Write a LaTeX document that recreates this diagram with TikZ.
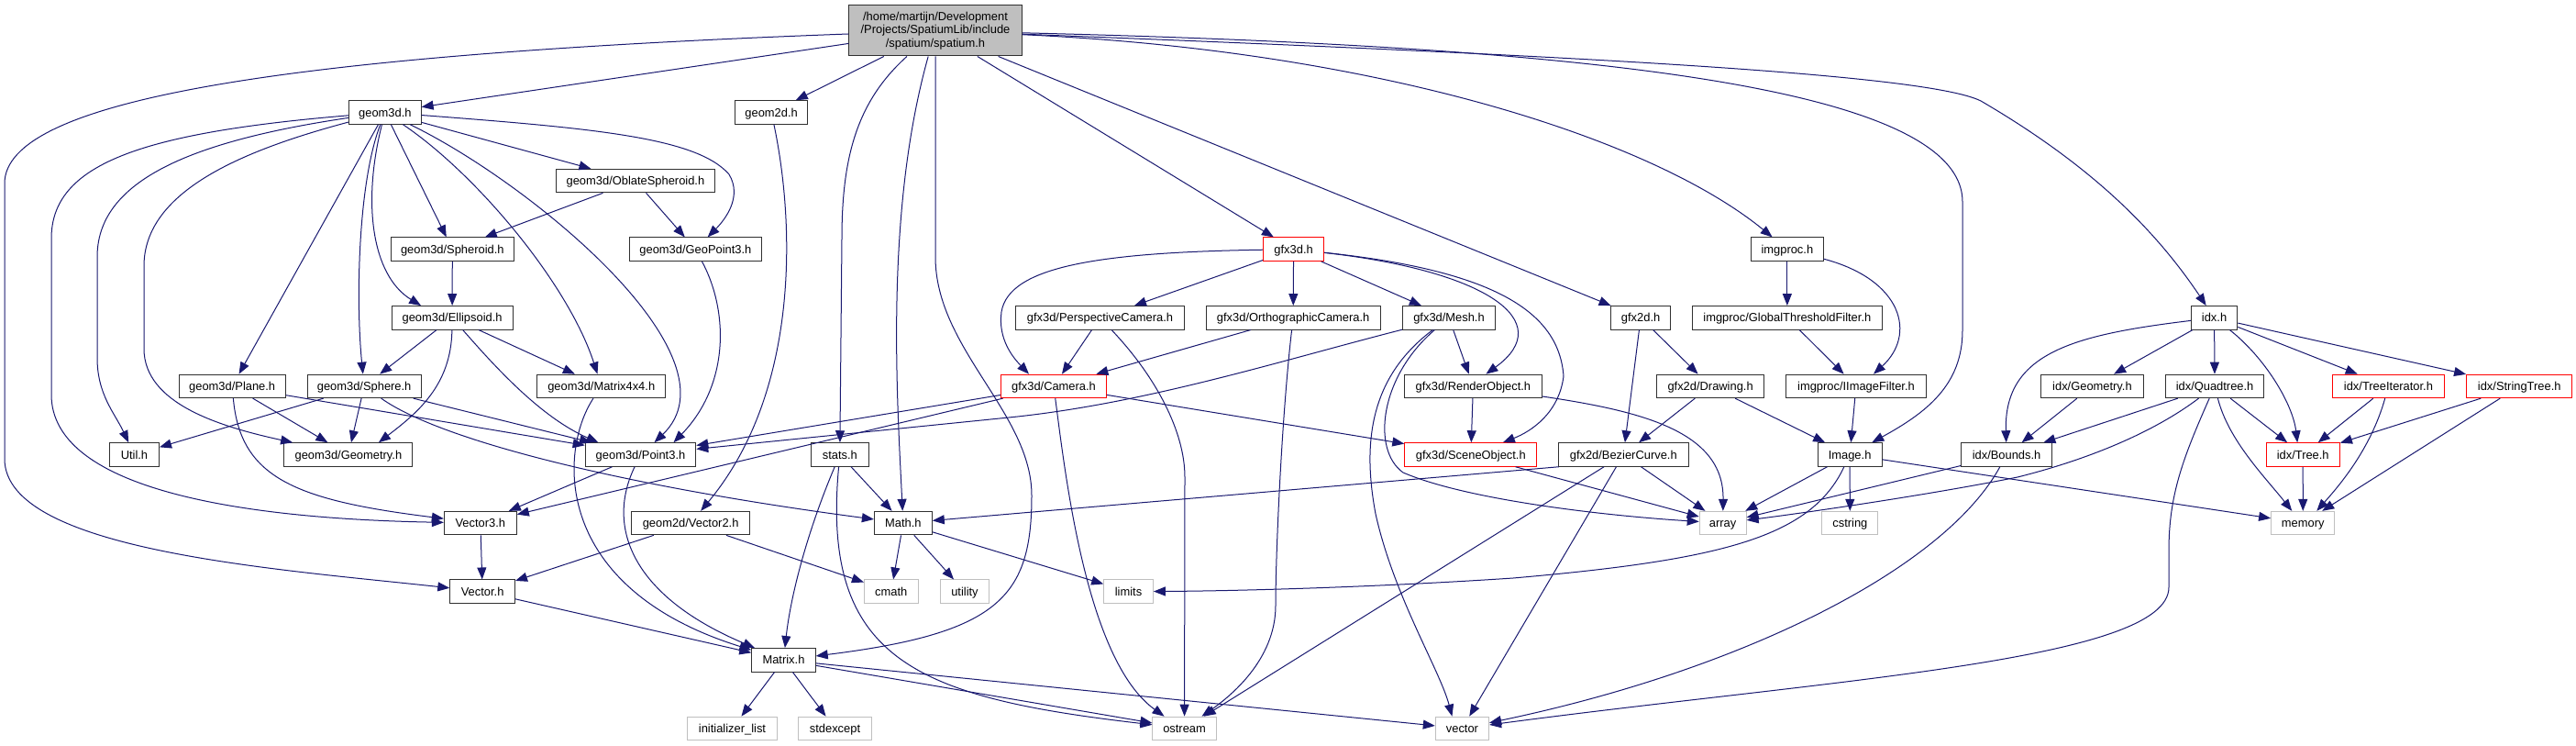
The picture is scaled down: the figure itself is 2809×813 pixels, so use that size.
\documentclass[tikz,border=0pt]{standalone}
\usepackage{fontspec}
\setmainfont{Liberation Sans}
\usetikzlibrary{arrows.meta}
\definecolor{edgecol}{HTML}{191970}
\definecolor{extgray}{HTML}{BFBFBF}
\definecolor{rootgray}{HTML}{BFBFBF}
\definecolor{bordercol}{HTML}{303030}
\newcommand\dxfont{\fontsize{12.9}{14.7}\selectfont}
\begin{document}
\begin{tikzpicture}[x=1pt,y=-1pt,
  base/.style={line width=1pt, fill=white, inner sep=0pt, minimum height=25.5pt, font=\dxfont},
  nd/.style={base, draw=bordercol, text height=9.3pt, text depth=0pt},
  rnd/.style={nd, draw=red},
  ext/.style={nd, draw=extgray},
  lnk/.style={draw=edgecol, line width=1pt, -{Triangle[length=13pt,width=10pt]}},
]
\fill[white] (0,0) rectangle (2809,813);
\useasboundingbox (0,0) rectangle (2809,813);

% ---------- nodes ----------
\node[base, draw=bordercol, fill=rootgray, minimum width=188.2pt, minimum height=55pt, align=center] (root) at (1020,33.5) {/home/martijn/Development\\/Projects/SpatiumLib/include\\/spatium/spatium.h};
% row 1
\node[nd, minimum width=78.5pt] (geom3d) at (419.85,122.5) {geom3d.h};
\node[nd, minimum width=78.5pt] (geom2d) at (841.15,122.5) {geom2d.h};
% row 2
\node[nd, minimum width=172.1pt] (oblate) at (692.95,197.1) {geom3d/OblateSpheroid.h};
% row 3
\node[nd, minimum width=134.6pt] (spheroid) at (493.3,271.7) {geom3d/Spheroid.h};
\node[nd, minimum width=144pt] (geopoint) at (758.4,271.7) {geom3d/GeoPoint3.h};
\node[rnd, minimum width=66pt] (gfx3d) at (1410.6,271.7) {gfx3d.h};
\node[nd, minimum width=78.5pt] (imgproc) at (1948.85,271.7) {imgproc.h};
% row 4
\node[nd, minimum width=132.2pt] (ellipsoid) at (493.1,346.3) {geom3d/Ellipsoid.h};
\node[nd, minimum width=184.6pt] (persp) at (1199.5,346.3) {gfx3d/PerspectiveCamera.h};
\node[nd, minimum width=189.9pt] (ortho) at (1410.15,346.3) {gfx3d/OrthographicCamera.h};
\node[nd, minimum width=101pt] (mesh) at (1580,346.3) {gfx3d/Mesh.h};
\node[nd, minimum width=65.6pt] (gfx2d) at (1789.1,346.3) {gfx2d.h};
\node[nd, minimum width=207.1pt] (gthresh) at (1948.85,346.3) {imgproc/GlobalThresholdFilter.h};
\node[nd, minimum width=50.5pt] (idx) at (2414.55,346.3) {idx.h};
% row 5
\node[nd, minimum width=116.2pt] (plane) at (253.2,420.9) {geom3d/Plane.h};
\node[nd, minimum width=123.9pt] (sphere) at (397.15,420.9) {geom3d/Sphere.h};
\node[nd, minimum width=139.9pt] (m44) at (655.75,420.9) {geom3d/Matrix4x4.h};
\node[rnd, minimum width=114.8pt] (camera) at (1149,420.9) {gfx3d/Camera.h};
\node[nd, minimum width=149.2pt] (renderobj) at (1606.4,420.9) {gfx3d/RenderObject.h};
\node[nd, minimum width=117.6pt] (drawing) at (1865.1,420.9) {gfx2d/Drawing.h};
\node[nd, minimum width=152.5pt] (iimage) at (2023.95,420.9) {imgproc/IImageFilter.h};
\node[nd, minimum width=111.1pt] (idxgeom) at (2281.45,420.9) {idx/Geometry.h};
\node[nd, minimum width=107.5pt] (quadtree) at (2415.05,420.9) {idx/Quadtree.h};
\node[rnd, minimum width=121.7pt] (treeiter) at (2604.45,420.9) {idx/TreeIterator.h};
\node[rnd, minimum width=115.2pt] (stringtree) at (2747.2,420.9) {idx/StringTree.h};
% row 6
\node[nd, minimum width=54.1pt] (util) at (146.45,495.5) {Util.h};
\node[nd, minimum width=140pt] (geom3geom) at (379.9,495.5) {geom3d/Geometry.h};
\node[nd, minimum width=120.6pt] (point3) at (698.5,495.5) {geom3d/Point3.h};
\node[nd, minimum width=63.4pt] (stats) at (915.8,495.5) {stats.h};
\node[rnd, minimum width=144.1pt] (sceneobj) at (1603.85,495.5) {gfx3d/SceneObject.h};
\node[nd, minimum width=141.9pt] (bezier) at (1770.25,495.5) {gfx2d/BezierCurve.h};
\node[nd, minimum width=69.8pt] (image) at (2017.1,495.5) {Image.h};
\node[nd, minimum width=98.7pt] (bounds) at (2188.05,495.5) {idx/Bounds.h};
\node[rnd, minimum width=80.4pt] (tree) at (2511.2,495.5) {idx/Tree.h};
% row 7
\node[nd, minimum width=78.9pt] (vector3) at (523.85,570.1) {Vector3.h};
\node[nd, minimum width=128.8pt] (vector2) at (753.1,570.1) {geom2d/Vector2.h};
\node[nd, minimum width=62.9pt] (math) at (984.85,570.1) {Math.h};
\node[ext, minimum width=50.9pt] (array) at (1878.65,570.1) {array};
\node[ext, minimum width=61.1pt] (cstring) at (2017.35,570.1) {cstring};
\node[ext, minimum width=69.3pt] (memory) at (2511.25,570.1) {memory};
% row 8
\node[nd, minimum width=70.7pt] (vectorh) at (526.15,644.7) {Vector.h};
\node[ext, minimum width=58.8pt] (cmath) at (971.8,644.7) {cmath};
\node[ext, minimum width=53.7pt] (utility) at (1051.95,644.7) {utility};
\node[ext, minimum width=53.7pt] (limits) at (1230.55,644.7) {limits};
% row 9
\node[nd, minimum width=69.4pt] (matrix) at (854.5,719.3) {Matrix.h};
% row 10
\node[ext, minimum width=97.8pt] (initlist) at (798.5,793.9) {initializer\_list};
\node[ext, minimum width=79.4pt] (stdexcept) at (910.5,793.9) {stdexcept};
\node[ext, minimum width=69.3pt] (ostream) at (1291.55,793.9) {ostream};
\node[ext, minimum width=58.3pt] (vecstd) at (1594.45,793.9) {vector};

% ---------- edges ----------
% root
\draw[lnk] (root) .. controls (300,60) and (5,110) .. (5,200) -- (5,500) .. controls (5,600) and (300,620) .. (vectorh);
\draw[lnk] (root) -- (geom3d);
\draw[lnk] (root) -- (geom2d);
\draw[lnk] (root) .. controls (935,110) and (918,170) .. (918,260) -- (stats);
\draw[lnk] (root) .. controls (965,230) and (978,430) .. (math);
\draw[lnk] (root) -- (1020,280) .. controls (1020,380) and (1125,450) .. (1125,540) .. controls (1125,650) and (1090,690) .. (matrix);
\draw[lnk] (root) -- (gfx3d);
\draw[lnk] (root) -- (gfx2d);
\draw[lnk] (root) .. controls (1500,55) and (1800,150) .. (imgproc);
\draw[lnk] (root) .. controls (1700,50) and (2140,90) .. (2140,220) -- (2140,360) .. controls (2140,420) and (2100,450) .. (image);
\draw[lnk] (root) .. controls (1700,60) and (2100,80) .. (2160,110) .. controls (2280,180) and (2350,250) .. (idx);
% geom3d
\draw[lnk] (geom3d) .. controls (150,145) and (56,180) .. (56,260) -- (56,430) .. controls (56,530) and (250,565) .. (vector3);
\draw[lnk] (geom3d) .. controls (200,155) and (106,200) .. (106,280) -- (106,390) .. controls (106,430) and (125,450) .. (util);
\draw[lnk] (geom3d) .. controls (260,165) and (157,210) .. (157,290) -- (157,380) .. controls (157,440) and (240,465) .. (geom3geom);
\draw[lnk] (geom3d) -- (plane);
\draw[lnk] (geom3d) .. controls (390,200) and (388,330) .. (sphere);
\draw[lnk] (geom3d) .. controls (395,220) and (405,300) .. ([xshift=-34pt]ellipsoid.north);
\draw[lnk] (geom3d) -- (spheroid);
\draw[lnk] (geom3d) .. controls (520,190) and (620,310) .. (m44);
\draw[lnk] (geom3d) .. controls (580,200) and (810,390) .. ([xshift=15pt]point3.north);
\draw[lnk] (geom3d) -- (oblate);
\draw[lnk] (geom3d) .. controls (650,140) and (760,150) .. (795,190) .. controls (810,215) and (790,240) .. (geopoint);
% geometry chain
\draw[lnk] (oblate) -- (spheroid);
\draw[lnk] (oblate) -- (geopoint);
\draw[lnk] (spheroid) -- (ellipsoid);
\draw[lnk] (geopoint) .. controls (795,340) and (795,420) .. ([xshift=36pt]point3.north);
\draw[lnk] (ellipsoid) -- (sphere);
\draw[lnk] (ellipsoid) .. controls (492,420) and (455,450) .. ([xshift=33pt]geom3geom.north);
\draw[lnk] (ellipsoid) .. controls (540,400) and (590,455) .. ([xshift=-46pt]point3.north);
\draw[lnk] (ellipsoid) -- (m44);
\draw[lnk] (sphere) -- (util);
\draw[lnk] (sphere) -- (geom3geom);
\draw[lnk] (sphere) -- (point3);
\draw[lnk] (sphere) .. controls (480,480) and (680,530) .. (math);
\draw[lnk] (plane) -- (geom3geom);
\draw[lnk] (plane) -- (point3);
\draw[lnk] (plane) .. controls (262,520) and (320,545) .. (vector3);
\draw[lnk] (m44) .. controls (610,490) and (600,640) .. (matrix);
\draw[lnk] (point3) -- (vector3);
\draw[lnk] (point3) .. controls (660,575) and (690,650) .. (matrix);
\draw[lnk] (vector3) -- (vectorh);
\draw[lnk] (vectorh) -- (matrix);
\draw[lnk] (geom2d) .. controls (868,250) and (870,430) .. (vector2);
\draw[lnk] (vector2) -- (vectorh);
\draw[lnk] (vector2) -- (cmath);
\draw[lnk] (math) -- (cmath);
\draw[lnk] (math) -- (utility);
\draw[lnk] (math) -- (limits);
\draw[lnk] (stats) -- (math);
\draw[lnk] (stats) .. controls (880,580) and (862,650) .. (matrix);
\draw[lnk] (stats) .. controls (895,720) and (1000,760) .. (ostream);
\draw[lnk] (matrix) -- (initlist);
\draw[lnk] (matrix) -- (stdexcept);
\draw[lnk] (matrix) -- (ostream);
\draw[lnk] (matrix) -- (vecstd);
% gfx3d
\draw[lnk] (gfx3d) .. controls (1200,275) and (1100,290) .. (1092,340) .. controls (1088,370) and (1105,390) .. ([xshift=-27pt]camera.north);
\draw[lnk] (gfx3d) -- (persp);
\draw[lnk] (gfx3d) -- (ortho);
\draw[lnk] (gfx3d) -- (mesh);
\draw[lnk] (gfx3d) .. controls (1620,295) and (1700,350) .. ([xshift=14pt]renderobj.north);
\draw[lnk] (gfx3d) .. controls (1630,295) and (1700,340) .. (1705,410) .. controls (1700,450) and (1670,470) .. ([xshift=35pt]sceneobj.north);
\draw[lnk] (persp) -- (camera);
\draw[lnk] (persp) .. controls (1260,410) and (1292,470) .. (1292,520) -- (ostream);
\draw[lnk] (ortho) -- (camera);
\draw[lnk] (ortho) .. controls (1398,450) and (1391,600) .. (1391,660) .. controls (1391,720) and (1340,760) .. (ostream);
\draw[lnk] (mesh) .. controls (1400,392) and (1250,440) .. (1100,455) -- (point3);
\draw[lnk] (mesh) -- (renderobj);
\draw[lnk] (mesh) .. controls (1495,410) and (1485,480) .. (1500,560) .. controls (1520,650) and (1570,730) .. ([xshift=-11pt]vecstd.north);
\draw[lnk] (mesh) .. controls (1505,410) and (1495,490) .. (1530,515) .. controls (1600,545) and (1750,562) .. (array);
\draw[lnk] (camera) -- (point3);
\draw[lnk] (camera) -- (vector3);
\draw[lnk] (camera) -- (sceneobj);
\draw[lnk] (camera) .. controls (1162,520) and (1185,720) .. ([xshift=-22pt]ostream.north);
\draw[lnk] (renderobj) -- (sceneobj);
\draw[lnk] (renderobj) .. controls (1790,448) and (1880,470) .. (array);
\draw[lnk] (sceneobj) -- (array);
% gfx2d
\draw[lnk] (gfx2d) -- (bezier);
\draw[lnk] (gfx2d) -- (drawing);
\draw[lnk] (drawing) -- (bezier);
\draw[lnk] (drawing) -- (image);
\draw[lnk] ([xshift=1pt]bezier.south west) -- (math);
\draw[lnk] (bezier) -- (ostream);
\draw[lnk] (bezier) -- (vecstd);
\draw[lnk] (bezier) -- (array);
% imgproc
\draw[lnk] (imgproc) -- (gthresh);
\draw[lnk] (imgproc) .. controls (2075,305) and (2090,365) .. ([xshift=19pt]iimage.north);
\draw[lnk] (gthresh) -- (iimage);
\draw[lnk] (iimage) -- (image);
\draw[lnk] (image) -- (array);
\draw[lnk] (image) -- (cstring);
\draw[lnk] (image) .. controls (1975,585) and (1880,610) .. (1650,630) .. controls (1500,640) and (1350,644) .. (limits);
\draw[lnk] (image) -- (memory);
% idx
\draw[lnk] (idx) .. controls (2260,365) and (2185,385) .. (bounds);
\draw[lnk] (idx) -- (idxgeom);
\draw[lnk] (idx) -- (quadtree);
\draw[lnk] (idx) .. controls (2470,390) and (2500,440) .. ([xshift=-6pt]tree.north);
\draw[lnk] (idx) -- (treeiter);
\draw[lnk] (idx) -- (stringtree);
\draw[lnk] (idxgeom) -- (bounds);
\draw[lnk] (quadtree) -- (bounds);
\draw[lnk] (quadtree) .. controls (2350,470) and (2280,500) .. (2200,520) .. controls (2100,540) and (1960,560) .. (array);
\draw[lnk] (bounds) -- (array);
\draw[lnk] (bounds) .. controls (2120,620) and (1900,730) .. (vecstd);
\draw[lnk] (quadtree) .. controls (2380,500) and (2365,540) .. (2365,600) -- (2365,640) .. controls (2365,720) and (2000,740) .. (vecstd);
\draw[lnk] (quadtree) -- (tree);
\draw[lnk] (quadtree) .. controls (2430,480) and (2470,520) .. ([xshift=-12pt]memory.north);
\draw[lnk] (treeiter) -- (tree);
\draw[lnk] (treeiter) .. controls (2585,490) and (2550,530) .. ([xshift=15pt]memory.north);
\draw[lnk] (stringtree) -- (tree);
\draw[lnk] (stringtree) -- (memory);
\draw[lnk] (tree) -- (memory);
\end{tikzpicture}
\end{document}
